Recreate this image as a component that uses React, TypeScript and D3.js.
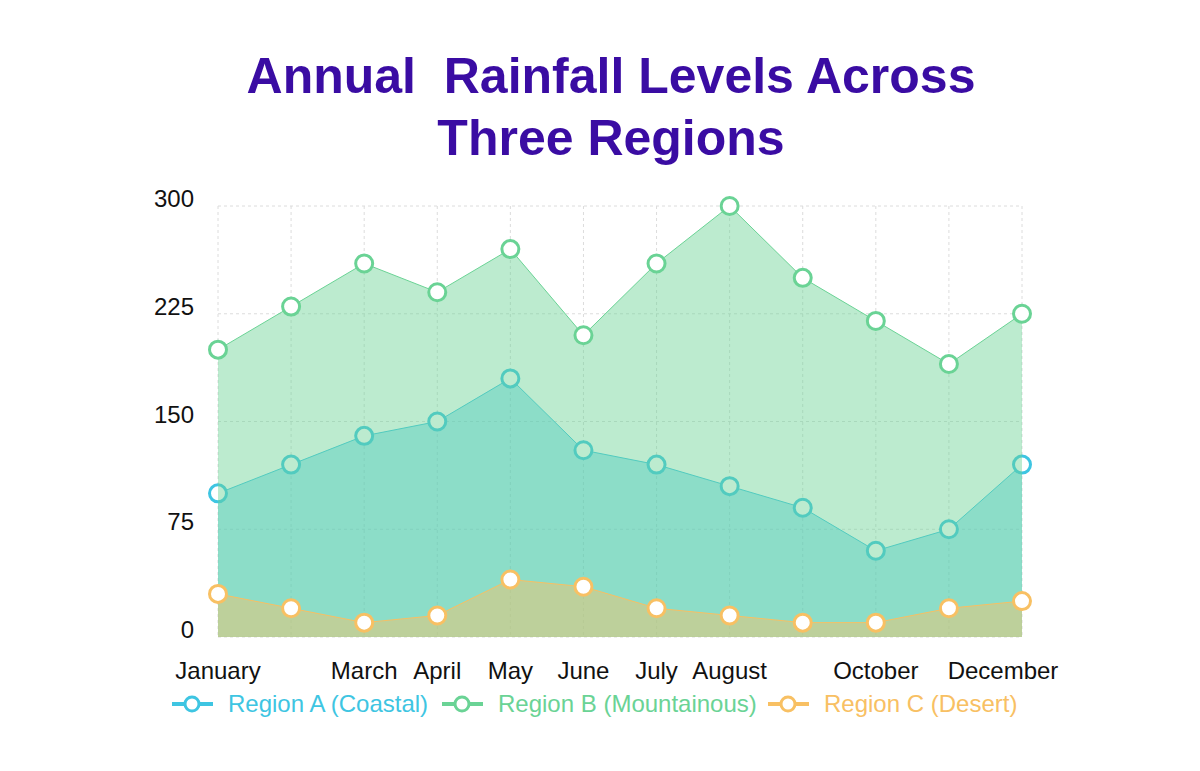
import React from "react";
import * as d3 from "d3";

const months = ["January","February","March","April","May","June","July","August","September","October","November","December"];
const shownMonths = ["January","March","April","May","June","July","August","October","December"];
const regionA = [100,120,140,150,180,130,120,105,90,60,75,120];
const regionB = [200,230,260,240,270,210,260,300,250,220,190,225];
const regionC = [30,20,10,15,40,35,20,15,10,10,20,25];
const yTicks = [0,75,150,225,300];
const seriesNames = ["Region A (Coastal)","Region B (Mountainous)","Region C (Desert)"];
const seriesColors = ["#3ec5e2","#6ad395","#f8c063"];
const titleLines = ["Annual  Rainfall Levels Across","Three Regions"];

const W = 1200, H = 771;
const left = 218, right = 1022, top = 206, bottom = 637;
const font = "'Liberation Sans', Arial, sans-serif";

export default function App() {
  const x = d3.scalePoint<string>().domain(months).range([left, right]);
  const y = d3.scaleLinear().domain([0, 300]).range([bottom, top]);
  const series = [regionA, regionB, regionC];
  const area = d3.area<number>().x((_, i) => x(months[i])!).y0(y(0)).y1(d => y(d));
  const line = d3.line<number>().x((_, i) => x(months[i])!).y(d => y(d));
  const legendX = [172, 442, 768];

  return (
    <svg width={W} height={H} style={{ position: "absolute", left: 0, top: 0, background: "#fff" }}>
      {titleLines.map((t, i) => (
        <text key={t} x={611} y={93 + i * 62} textAnchor="middle" fontFamily={font} fontWeight="bold"
          fontSize={50} fill="#3a0ca3" style={{ whiteSpace: "pre" }}>{t}</text>
      ))}
      {/* grid */}
      <g stroke="#dcdcdc" strokeWidth={1} strokeDasharray="3,3">
        {yTicks.map(t => <line key={t} x1={left} x2={right} y1={y(t)} y2={y(t)} />)}
        {months.map(m => <line key={m} x1={x(m)} x2={x(m)} y1={top} y2={bottom} />)}
      </g>
      {yTicks.map(t => (
        <text key={t} x={194} y={y(t) + 1} textAnchor="end" fontFamily={font} fontSize={24} fill="#111">{t}</text>
      ))}
      {shownMonths.map((m, i) => (
        <text key={m} x={x(m)! + (i === shownMonths.length - 1 ? -19 : 0)} y={679} textAnchor="middle"
          fontFamily={font} fontSize={24} fill="#111">{m}</text>
      ))}
      {series.map((s, si) => (
        <g key={si}>
          <path d={area(s)!} fill={seriesColors[si]} fillOpacity={0.45} />
          <path d={line(s)!} fill="none" stroke={seriesColors[si]} strokeWidth={1} />
          {s.map((v, i) => (
            <circle key={i} cx={x(months[i])} cy={y(v)} r={8.5} fill="#fff" stroke={seriesColors[si]} strokeWidth={3} />
          ))}
        </g>
      ))}
      {seriesNames.map((n, i) => (
        <g key={n} transform={`translate(${legendX[i]},704)`}>
          <line x1={0} x2={41} y1={0} y2={0} stroke={seriesColors[i]} strokeWidth={4} />
          <circle cx={20} cy={0} r={7} fill="#fff" stroke={seriesColors[i]} strokeWidth={3} />
          <text x={56} y={8} fontFamily={font} fontSize={24} fill={seriesColors[i]}>{n}</text>
        </g>
      ))}
    </svg>
  );
}
